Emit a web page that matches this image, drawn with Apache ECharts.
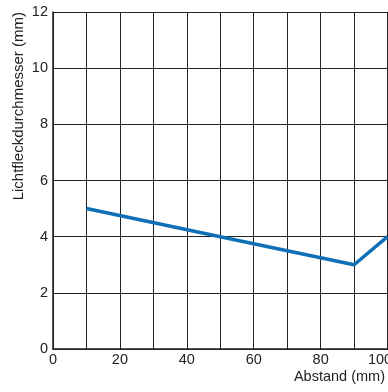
<!DOCTYPE html>
<html><head><meta charset="utf-8">
<script src="https://cdn.jsdelivr.net/npm/echarts@6/dist/echarts.min.js"></script>
<style>html,body{margin:0;padding:0;background:#fff}#c{width:388px;height:392px}</style>
</head><body><div id="c"></div>
<script>
const xValues = [10, 50, 90, 100];
const yValues = [5.0, 4.0, 3.0, 4.0];
const xTicks = [0, 20, 40, 60, 80, 100];
const yTicks = [0, 2, 4, 6, 8, 10, 12];
const xTitle = 'Abstand (mm)';
const yTitle = 'Lichtfleckdurchmesser (mm)';

const chart = echarts.init(document.getElementById('c'), null, {renderer: 'canvas'});
chart.setOption({
  animation: false,
  grid: {left: 53, top: 12, bottom: 43, width: 368, containLabel: false, outerBoundsMode: 'none'},
  xAxis: {
    type: 'value', min: 0, max: 110, interval: 10,
    axisLine: {show: true, onZero: false, lineStyle: {color: '#222', width: 1.5}},
    axisTick: {show: false},
    axisLabel: {color: '#222', fontSize: 14.5, fontFamily: 'Liberation Sans, Arial', margin: 3,
      formatter: v => xTicks.includes(v) ? (v === 100 ? '{s|' + v + '}' : String(v)) : '',
      rich: {s: {color: '#222', fontSize: 14.5, fontFamily: 'Liberation Sans, Arial', padding: [0, 15, 0, 0]}}},
    splitLine: {show: true, lineStyle: {color: '#222', width: 1}}
  },
  yAxis: {
    type: 'value', min: 0, max: 12, interval: 2,
    axisLine: {show: true, lineStyle: {color: '#222', width: 1.5}},
    axisTick: {show: false},
    axisLabel: {color: '#222', fontSize: 14.5, fontFamily: 'Liberation Sans, Arial', margin: 5,
      formatter: v => yTicks.includes(v) ? String(v) : ''},
    splitLine: {show: true, lineStyle: {color: '#222', width: 1}}
  },
  graphic: [
    {type: 'text', rotation: Math.PI/2, x: 11, y: 12,
     style: {text: yTitle, fill: '#222', font: '15px "Liberation Sans", Arial', textAlign: 'right', textVerticalAlign: 'top'}},
    {type: 'text', right: 3, top: 369,
     style: {text: xTitle, fill: '#222', font: '14.5px "Liberation Sans", Arial'}}
  ],
  series: [{
    type: 'line', data: xValues.map((x, i) => [x, yValues[i]]),
    showSymbol: false, symbol: 'none',
    lineStyle: {color: '#0f70b8', width: 3.5}
  }]
});
</script></body></html>
